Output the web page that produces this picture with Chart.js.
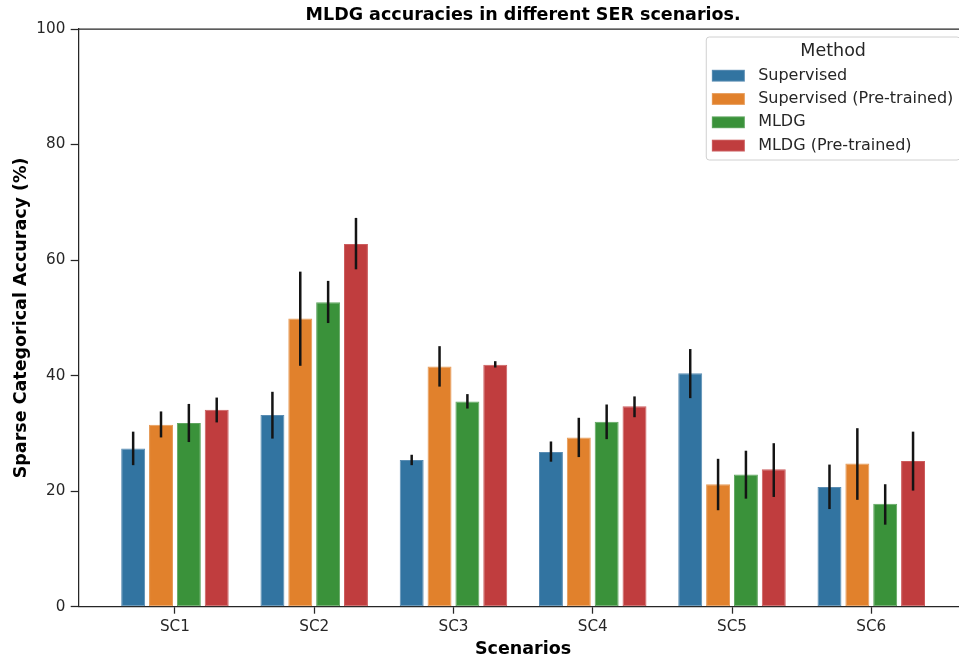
<!DOCTYPE html>
<html>
<head>
<meta charset="UTF-8">
<title>MLDG accuracies</title>
<script src="https://cdn.jsdelivr.net/npm/chart.js"></script>
<style>
	body { margin: 0; overflow: hidden; background: #fff; }
	canvas { display: block; }
</style>
</head>
<body>
	<!-- 오른쪽 테두리는 창 밖으로 살짝 잘림 -->
	<canvas id="barChart" width="975" height="657"></canvas>

	<script>
		// 시나리오 / 방법
		const scenarios = ['SC1', 'SC2', 'SC3', 'SC4', 'SC5', 'SC6'];
		const methods = ['Supervised', 'Supervised (Pre-trained)', 'MLDG', 'MLDG (Pre-trained)'];

		// 평균 정확도 (%)
		const supervised    = [27.4, 33.2, 25.4, 26.8, 40.4, 20.7];
		const supervisedPre = [31.5, 49.9, 41.6, 29.3, 21.2, 24.8];
		const mldg          = [31.8, 52.7, 35.5, 32.0, 22.9, 17.8];
		const mldgPre       = [34.1, 62.8, 41.9, 34.7, 23.8, 25.2];

		// 오차 막대 [하한, 상한]
		const supervisedErr    = [[24.5, 30.3], [29.1, 37.2], [24.5, 26.3], [25.1, 28.6], [36.1, 44.6], [16.9, 24.6]];
		const supervisedPreErr = [[29.3, 33.8], [41.7, 58.0], [38.1, 45.1], [25.9, 32.7], [16.7, 25.6], [18.5, 30.9]];
		const mldgErr          = [[28.5, 35.1], [49.1, 56.4], [34.3, 36.8], [29.0, 35.0], [18.7, 27.0], [14.2, 21.2]];
		const mldgPreErr       = [[31.9, 36.2], [58.4, 67.3], [41.4, 42.5], [32.8, 36.4], [19.0, 28.3], [20.1, 30.3]];

		const yTicks = [0, 20, 40, 60, 80, 100];

		const seriesValues = [supervised, supervisedPre, mldg, mldgPre];
		const seriesErrors = [supervisedErr, supervisedPreErr, mldgErr, mldgPreErr];
		const colors = ['#3274a1', '#e1812c', '#3a923a', '#c03d3e'];
		const edgeColors = ['#5a8db3', '#e69a56', '#5fa65f', '#cc5d5e'];

		const INK = '#262626';
		const FONT = 'DejaVu Sans';

		// 오차 막대: 각 막대 중심에 세로선
		const errorBarPlugin = {
			id: 'errorBars',
			afterDatasetsDraw(chart) {
				const ctx = chart.ctx;
				const y = chart.scales.y;
				ctx.save();
				ctx.strokeStyle = '#141414';
				ctx.lineWidth = 2.5;
				seriesErrors.forEach(function(errs, i){
					const meta = chart.getDatasetMeta(i);
					meta.data.forEach(function(bar, j){
						ctx.beginPath();
						ctx.moveTo(bar.x, y.getPixelForValue(errs[j][0]));
						ctx.lineTo(bar.x, y.getPixelForValue(errs[j][1]));
						ctx.stroke();
					});
				});
				ctx.restore();
			}
		};

		// 위/오른쪽 테두리 + 제목 + 범례 박스
		const framePlugin = {
			id: 'frame',
			afterDraw(chart) {
				const ctx = chart.ctx;
				const a = chart.chartArea;
				ctx.save();

				ctx.strokeStyle = INK;
				ctx.lineWidth = 1.25;
				ctx.beginPath();
				ctx.moveTo(a.left, a.top);
				ctx.lineTo(a.right, a.top);
				ctx.lineTo(a.right, a.bottom);
				ctx.stroke();

				// 제목
				ctx.fillStyle = '#000';
				ctx.font = 'bold 17.5px "' + FONT + '"';
				ctx.textAlign = 'center';
				ctx.textBaseline = 'middle';
				ctx.fillText('MLDG accuracies in different SER scenarios.', (a.left + a.right) / 2, 15.5);

				// 범례
				ctx.font = '16px "' + FONT + '"';
				let maxW = 0;
				methods.forEach(function(m){ maxW = Math.max(maxW, ctx.measureText(m).width); });
				const boxRight = a.right - 7.5;
				const boxTop = a.top + 8;
				const boxW = 5.6 + 33 + 13.3 + maxW + 6.7;
				const boxH = 123;
				const boxLeft = boxRight - boxW;

				ctx.fillStyle = 'rgba(255,255,255,0.8)';
				ctx.strokeStyle = '#d0d0d0';
				ctx.lineWidth = 1;
				ctx.beginPath();
				ctx.roundRect(boxLeft, boxTop, boxW, boxH, 3);
				ctx.fill();
				ctx.stroke();

				ctx.fillStyle = INK;
				ctx.font = '17.5px "' + FONT + '"';
				ctx.textAlign = 'center';
				ctx.fillText('Method', boxLeft + boxW / 2, boxTop + 14.5);

				ctx.font = '16px "' + FONT + '"';
				ctx.textAlign = 'left';
				methods.forEach(function(m, i){
					const cy = boxTop + 38.7 + i * 23.3;
					ctx.fillStyle = edgeColors[i];
					ctx.fillRect(boxLeft + 5.6, cy - 5.9, 33, 11.8);
					ctx.fillStyle = colors[i];
					ctx.fillRect(boxLeft + 6.6, cy - 4.9, 31, 9.8);
					ctx.fillStyle = INK;
					ctx.fillText(m, boxLeft + 5.6 + 33 + 13.3, cy);
				});

				ctx.restore();
			}
		};

		const ctx = document.getElementById('barChart').getContext('2d');

		new Chart(ctx, {
			type: 'bar',
			data: {
				datasets: methods.map(function(m, i){
					return {
						label: m,
						data: seriesValues[i].map(function(v, j){ return {x: j, y: v}; }),
						backgroundColor: colors[i],
						borderColor: edgeColors[i],
						borderWidth: 1,
						borderSkipped: false,
						categoryPercentage: 0.8,
						barPercentage: 0.86
					};
				})
			},
			options: {
				responsive: false,
				animation: false,
				devicePixelRatio: 1,
				layout: {
					padding: { top: 29, right: 7.5, left: 0, bottom: 0 }
				},
				plugins: {
					legend: { display: false },
					title: { display: false },
					tooltip: { enabled: false }
				},
				scales: {
					x: {
						type: 'linear',
						min: -0.691,
						max: 5.691,
						offset: false,
						afterFit: function(scale){ scale.height = 50.3; },
						afterBuildTicks: function(scale){
							scale.ticks = scenarios.map(function(s, i){ return {value: i}; });
						},
						ticks: {
							callback: function(value){ return scenarios[value]; },
							color: INK,
							padding: 4,
							maxRotation: 0,
							autoSkip: false,
							font: { family: FONT, size: 15.2 }
						},
						grid: {
							offset: false,
							drawOnChartArea: false,
							drawTicks: true,
							tickLength: 7,
							tickWidth: 1.25,
							tickColor: INK
						},
						border: { display: true, color: INK, width: 1.25 },
						title: {
							display: true,
							text: 'Scenarios',
							color: '#000',
							padding: { top: 0, bottom: -2.5 },
							font: { family: FONT, size: 17.5, weight: 'bold' }
						}
					},
					y: {
						min: 0,
						max: 100,
						afterFit: function(scale){ scale.width = 78.7; },
						afterBuildTicks: function(scale){
							scale.ticks = yTicks.map(function(v){ return {value: v}; });
						},
						ticks: {
							color: INK,
							padding: 5.4,
							font: { family: FONT, size: 15.2 }
						},
						grid: {
							drawOnChartArea: false,
							drawTicks: true,
							tickLength: 8,
							tickWidth: 1.25,
							tickColor: INK
						},
						border: { display: true, color: INK, width: 1.25 },
						title: {
							display: true,
							text: 'Sparse Categorical Accuracy (%)',
							color: '#000',
							padding: { top: 10.5, bottom: 0 },
							font: { family: FONT, size: 17.5, weight: 'bold' }
						}
					}
				}
			},
			plugins: [errorBarPlugin, framePlugin]
		});
	</script>
</body>
</html>
